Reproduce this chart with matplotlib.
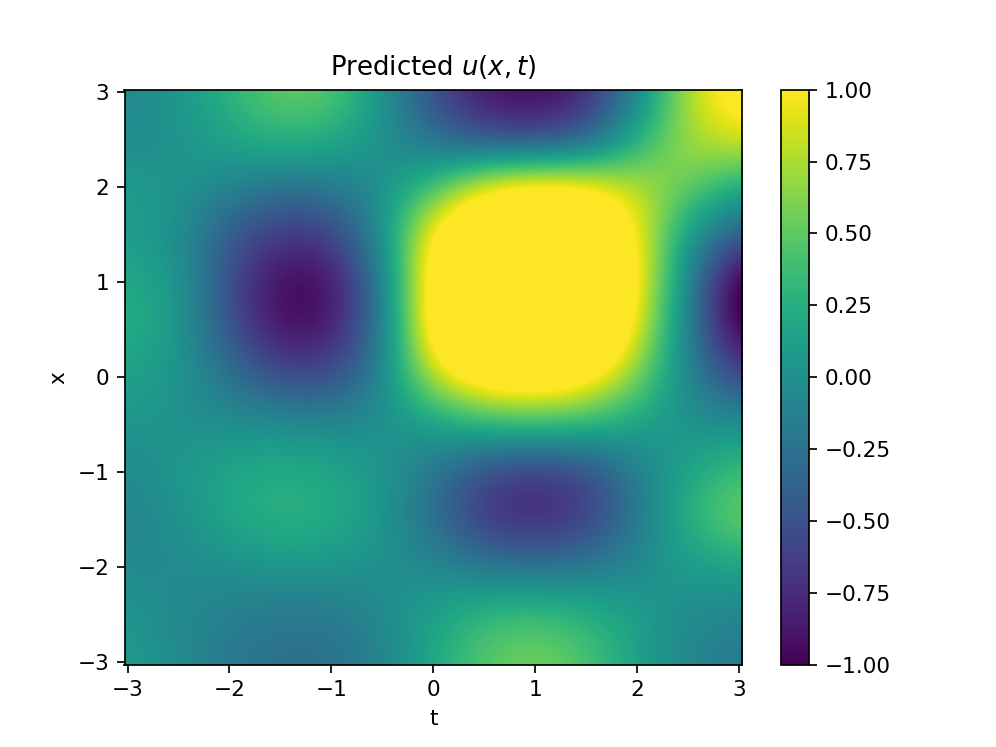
import matplotlib
matplotlib.use("Agg")
import matplotlib.pyplot as plt
import numpy

# t and x positions the values were read at
t_values = [-3.0, -2.5, -2.0, -1.5, -1.0, -0.5, 0.0, 0.5, 1.0, 1.5, 2.0, 2.5, 3.0]
x_values = [3.0, 2.5, 2.0, 1.5, 1.0, 0.5, 0.0, -0.5, -1.0, -1.5, -2.0, -2.5, -3.0]

# above 1 means the colour is saturated there
u_pred = [
    [-0.05, 0.05, 0.30, 0.55, 0.50, 0.05, -0.55, -0.90, -1.00, -0.80, -0.10, 0.80, 1.20],
    [-0.05, 0.00, 0.20, 0.30, 0.25, 0.00, -0.30, -0.55, -0.60, -0.45, 0.25, 0.75, 0.90],
    [0.10, 0.05, -0.10, -0.25, -0.20, 0.00, 0.40, 1.00, 1.20, 1.10, 0.78, 0.55, 0.20],
    [0.10, 0.00, -0.45, -0.70, -0.65, 0.00, 1.15, 1.65, 1.80, 1.65, 1.00, 0.05, -0.45],
    [0.22, 0.08, -0.55, -1.00, -0.95, -0.20, 1.30, 1.95, 2.10, 1.95, 1.05, -0.10, -1.25],
    [0.25, 0.08, -0.50, -0.95, -0.90, -0.20, 1.30, 1.95, 2.10, 1.85, 0.92, -0.15, -1.15],
    [0.15, 0.05, -0.25, -0.55, -0.55, -0.10, 0.85, 1.25, 1.35, 1.15, 0.60, -0.10, -0.60],
    [0.05, 0.00, 0.00, 0.00, -0.05, 0.00, 0.10, 0.30, 0.35, 0.30, 0.15, 0.00, 0.00],
    [-0.05, 0.05, 0.20, 0.25, 0.20, 0.05, -0.20, -0.60, -0.70, -0.60, -0.15, 0.20, 0.40],
    [-0.10, 0.00, 0.20, 0.30, 0.25, 0.05, -0.30, -0.70, -0.80, -0.65, -0.20, 0.30, 0.60],
    [-0.05, -0.05, 0.00, 0.05, 0.05, 0.00, -0.05, -0.20, -0.25, -0.20, -0.05, 0.10, 0.15],
    [0.05, -0.05, -0.15, -0.20, -0.20, -0.05, 0.15, 0.35, 0.40, 0.30, 0.10, -0.05, -0.10],
    [0.10, -0.05, -0.20, -0.28, -0.28, -0.10, 0.20, 0.50, 0.60, 0.45, 0.15, -0.10, -0.20],
]

fig = plt.figure(figsize=(6.4, 4.8), dpi=155.625)
ax = fig.add_subplot(111)
im = ax.imshow(numpy.array(u_pred), cmap="viridis", vmin=-1, vmax=1, aspect="auto",
               interpolation="bicubic", interpolation_stage="data",
               extent=[t_values[0] - 0.25, t_values[-1] + 0.25, x_values[-1] - 0.25, x_values[0] + 0.25])
ax.set_xlim(-3.03, 3.03)
ax.set_ylim(-3.03, 3.03)
ax.set_xticks([-3, -2, -1, 0, 1, 2, 3])
ax.set_yticks([-3, -2, -1, 0, 1, 2, 3])
ax.set_xlabel("t")
ax.set_ylabel("x")
ax.set_title("Predicted $u(x, t)$", pad=7)
fig.colorbar(im, ax=ax)
fig.savefig("out.png")
